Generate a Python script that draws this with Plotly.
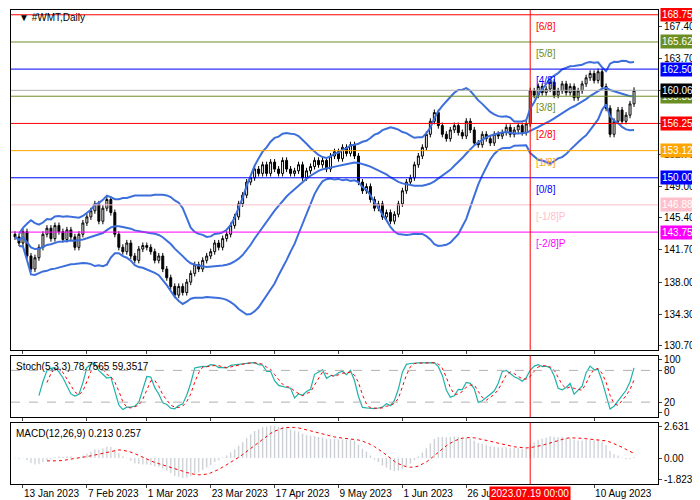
import pandas as pd, numpy as np
import plotly.graph_objects as go
from plotly.subplots import make_subplots

closes = [143.2,142.5,143.8,141.0,139.5,140.8,142.0,143.5,144.2,143.0,144.5,143.8,142.9,144.0,143.2,
 142.0,143.5,144.8,145.5,146.2,147.0,145.0,146.5,147.5,146.0,143.5,142.0,141.5,142.5,141.0,140.5,141.8,142.2,142.0,
 141.5,140.5,141.0,139.5,138.5,137.5,136.5,137.5,136.8,138.0,139.0,140.0,139.5,140.5,141.0,141.5,142.5,142.0,143.0,143.5,144.5,145.5,147.0,
 148.0,149.5,150.0,151.0,150.5,151.5,150.5,151.8,151.0,150.5,152.0,151.0,150.5,150.8,151.5,150.0,150.8,151.3,152.0,
 151.5,152.0,151.0,152.5,153.0,152.2,153.5,152.8,153.8,152.5,149.5,148.5,149.0,147.5,146.5,147.0,145.5,146.0,145.0,145.8,147.0,148.5,
 149.5,150.0,151.5,152.5,153.5,155.0,156.5,157.5,156.0,155.0,154.5,155.5,156.0,155.2,154.8,156.5,155.5,154.0,153.8,155.0,154.5,
 154.0,155.0,154.8,155.2,155.8,155.0,155.5,156.0,155.2,156.2,160.0,159.5,160.5,159.8,160.2,161.0,159.5,160.0,160.8,159.8,
 160.5,159.2,160.0,160.8,161.5,162.0,161.2,162.2,160.5,158.0,155.0,156.5,157.8,156.5,157.2,158.5,160.06]
first_open = 143.5
wick = 0.35
holidays = ["2023-01-16","2023-02-20","2023-04-07","2023-05-29","2023-06-19","2023-07-04"]
dates = pd.date_range("2023-01-11", periods=len(closes), freq=pd.offsets.CustomBusinessDay(holidays=holidays))
tick_dates = ["2023-01-13","2023-02-07","2023-03-01","2023-03-23","2023-04-17","2023-05-09","2023-06-01","2023-06-26","2023-08-10"]
tick_labels = ["13 Jan 2023","7 Feb 2023","1 Mar 2023","23 Mar 2023","17 Apr 2023","9 May 2023","1 Jun 2023","26 Jun 2023","10 Aug 2023"]
levels = [168.75,165.62,162.50,159.38,156.25,153.12,150.00,146.88,143.75]
level_names = ["[6/8]","[5/8]","[4/8]","[3/8]","[2/8]","[1/8]","[0/8]","[-1/8]P","[-2/8]P"]
level_colors = ["red","#6b8e23","blue","#6b8e23","red","orange","blue","pink","magenta"]
marker_date = "2023-07-19"

c = pd.Series(closes)
o = pd.Series([first_open]+closes[:-1])
h = np.maximum(o,c)+wick; l = np.minimum(o,c)-wick
idx = list(range(len(c)))
mid = c.rolling(20, min_periods=1).mean(); sd = c.rolling(20, min_periods=2).std(ddof=0)
hh = pd.Series(h).rolling(5).max(); ll = pd.Series(l).rolling(5).min()
k = (c-ll).rolling(3).sum()/(hh-ll).rolling(3).sum()*100
d = k.rolling(3).mean()
macd = c.ewm(span=12,adjust=False).mean()-c.ewm(span=26,adjust=False).mean()
sig = macd.rolling(9).mean()
pos = {dt.strftime("%Y-%m-%d"):i for i,dt in enumerate(dates)}
mi = pos[marker_date]

fig = make_subplots(rows=3, cols=1, shared_xaxes=True, vertical_spacing=0.012, row_heights=[0.72,0.13,0.13])
fig.add_trace(go.Candlestick(x=idx, open=o, high=h, low=l, close=c,
    increasing=dict(line=dict(color="black",width=1), fillcolor="white"),
    decreasing=dict(line=dict(color="black",width=1), fillcolor="black"), whiskerwidth=0), 1, 1)
for s in [mid, mid+2*sd, mid-2*sd]:
    fig.add_trace(go.Scatter(x=idx, y=s, mode="lines", line=dict(color="#3c6fdc", width=2)), 1, 1)
fig.add_trace(go.Scatter(x=idx, y=k, mode="lines", line=dict(color="#20b2aa", width=1.2)), 2, 1)
fig.add_trace(go.Scatter(x=idx, y=d, mode="lines", line=dict(color="red", width=1, dash="dot")), 2, 1)
fig.add_trace(go.Bar(x=idx, y=macd, marker_color="#c0c0c0", width=0.3), 3, 1)
fig.add_trace(go.Scatter(x=idx, y=sig, mode="lines", line=dict(color="red", width=1, dash="dot")), 3, 1)

n = len(c)
for v,nm,col in zip(levels, level_names, level_colors):
    fig.add_shape(type="line", x0=-1, x1=n+5, y0=v, y1=v, line=dict(color=col,width=1), row=1, col=1)
    fig.add_annotation(x=mi+1, y=v, text=nm, showarrow=False, xanchor="left", yanchor="top", yshift=-4,
                       font=dict(color=col,size=10), row=1, col=1)
fig.add_shape(type="line", x0=-1, x1=n+5, y0=closes[-1], y1=closes[-1], line=dict(color="#b0b0b0",width=1), row=1, col=1)
for v,col in list(zip(levels, level_colors)) + [(closes[-1], "black")]:
    fig.add_annotation(xref="paper", x=1.0, y=v, yref="y", text=f"{v:.2f}", showarrow=False, xanchor="left", xshift=2,
                       bgcolor=col, font=dict(color="white", size=10, family="Liberation Sans"), borderpad=1)
for r in (1,2,3):
    fig.add_vline(x=mi, line=dict(color="red", width=1), row=r, col=1)
for v in (20,80):
    fig.add_hline(y=v, line=dict(color="#b0b0b0", width=1, dash="dash"), row=2, col=1)

fig.add_annotation(xref="paper", yref="paper", x=0.01, y=1.0, text="▼ #WMT,Daily", showarrow=False, xanchor="left", yanchor="top", font=dict(size=10))
fig.add_annotation(xref="paper", yref="y2 domain", x=0.005, y=0.95, text="Stoch(5,3,3) 78.7565 59.3517", showarrow=False, xanchor="left", yanchor="top", font=dict(size=10))
fig.add_annotation(xref="paper", yref="y3 domain", x=0.005, y=0.95, text="MACD(12,26,9) 0.213 0.257", showarrow=False, xanchor="left", yanchor="top", font=dict(size=10))
fig.add_annotation(x=mi, y=0, xref="x3", yref="paper", text="2023.07.19 00:00", showarrow=False, yanchor="top", yshift=-2,
                   bgcolor="red", font=dict(color="white", size=10), borderpad=1)

ax = dict(showline=True, mirror=True, linecolor="black", showgrid=False, zeroline=False)
fig.update_xaxes(range=[-1, n+5], **ax, tickmode="array", tickvals=[pos[t] for t in tick_dates], ticktext=tick_labels,
                 ticks="outside", ticklen=3, tickfont=dict(size=10), tickangle=0, ticklabelposition="outside right", rangeslider_visible=False)
fig.update_xaxes(showticklabels=False, row=1, col=1)
fig.update_xaxes(showticklabels=False, row=2, col=1)
fig.update_yaxes(side="right", **ax, ticks="outside", ticklen=3, tickfont=dict(size=10))
fig.update_yaxes(range=[130.2,169.3], tickvals=[130.70,134.30,138.00,141.70,145.40,149.00,152.70,156.30,160.00,163.70,167.40],
                 tickformat=".2f", row=1, col=1)
fig.update_yaxes(range=[-8,108], tickvals=[0,20,80,100], row=2, col=1)
fig.update_yaxes(range=[-2.2,3.0], tickvals=[-1.823,0,2.631], ticktext=["-1.823","0.00","2.631"], row=3, col=1)
fig.update_layout(width=700, height=500, margin=dict(l=3,r=50,t=2,b=24), showlegend=False,
                  plot_bgcolor="white", paper_bgcolor="white", font=dict(family="Liberation Sans", color="black"), bargap=0.6)
fig.write_html("out.html")
